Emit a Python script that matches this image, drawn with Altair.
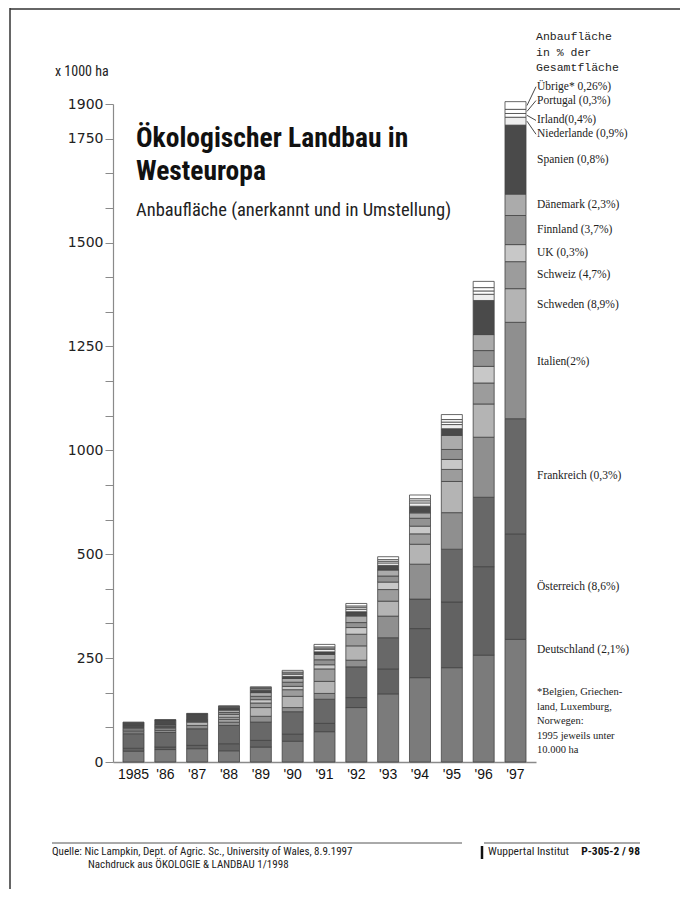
import altair as alt
import pandas as pd

# ---------------- data (values in the chart's drawn y units, x 1000 ha) ----------------
years = ["1985", "'86", "'87", "'88", "'89", "'90", "'91", "'92", "'93", "'94", "'95", "'96", "'97"]

countries = ["Deutschland", "Österreich", "Frankreich", "Italien", "Schweden", "Schweiz", "UK",
             "Finnland", "Dänemark", "Spanien", "Niederlande", "Irland", "Portugal", "Übrige"]

label_texts = ["Deutschland (2,1%)", "Österreich (8,6%)", "Frankreich (0,3%)", "Italien(2%)",
               "Schweden (8,9%)", "Schweiz (4,7%)", "UK (0,3%)", "Finnland (3,7%)", "Dänemark (2,3%)",
               "Spanien (0,8%)", "Niederlande (0,9%)", "Irland(0,4%)", "Portugal (0,3%)", "Übrige* 0,26%)"]

deutschland = [26, 30, 32, 27, 36, 50, 73, 131, 164, 203, 227, 257, 295]
oesterreich = [7, 6, 8, 17, 16, 17, 20, 24, 60, 118, 158, 213, 254]
frankreich = [35, 35, 40, 44, 44, 54, 58, 74, 75, 71, 127, 167, 277]
italien = [5, 5, 8, 8, 14, 10, 14, 16, 52, 84, 88, 144.5, 232]
schweden = [4, 4, 8, 6, 21, 27, 29, 34.5, 36, 48, 75, 80, 81]
schweiz = [4, 3, 2, 6, 11, 16, 30, 28, 28, 25, 29, 50.5, 65]
uk = [2, 2, 1, 6, 8, 8, 10, 16, 18, 18.5, 24, 40, 41]
finnland = [1, 1, 1, 5, 8, 10, 12, 12, 14.5, 19, 24, 38, 70]
daenemark = [2, 3, 2, 6, 9, 9, 13, 16, 14.5, 13, 34, 38.5, 51.5]
spanien = [10, 12, 14, 6, 6, 5, 6, 10, 11, 16, 16, 82, 166]
niederlande = [0, 1, 1, 2, 3, 5, 6, 6, 6, 8, 10, 15, 19]
irland = [0, 0, 0, 1, 1.5, 3, 3, 4, 4, 5, 6, 8, 9]
portugal = [0, 0, 0, 0, 1.5, 2.5, 3, 4, 4, 5, 6, 8, 10]
uebrige = [0, 0, 0, 1, 2, 4, 6, 6, 7, 9, 12, 15, 18.5]

series = [deutschland, oesterreich, frankreich, italien, schweden, schweiz, uk,
          finnland, daenemark, spanien, niederlande, irland, portugal, uebrige]

# y axis: drawn scale (ticks every 1/3 of 250) and the printed labels
tick_step = 250 / 3
tick_values = [round(i * tick_step, 2) for i in range(20)]
printed = {0: "0", 250: "250", 500: "500", 750: "1000", 1000: "1250", 1250: "1500", 1500: "1750", 1583: "1900"}

# ---------------- styling ----------------
colors = ["#7b7b7b", "#626262", "#686868", "#8f8f8f", "#b4b4b4", "#9c9c9c", "#c8c8c8",
          "#929292", "#ababab", "#4a4a4a", "#eeeeee", "#ffffff", "#ffffff", "#ffffff"]
NARROW = "Liberation Sans Narrow, Roboto Condensed, Arial Narrow, Liberation Sans"
W, H = 423, 658
TOP = tick_values[-1]
PX = H / TOP
YSCALE = alt.Scale(domain=[0, TOP], nice=False, zero=True)

rows = []
for j, c in enumerate(countries):
    for i, y in enumerate(years):
        v = series[j][i]
        if v > 0:
            rows.append({"year": y, "country": c, "value": v, "ord": j})
df = pd.DataFrame(rows)

label_expr = " : ".join(
    [f"round(datum.value) == {k} ? '{v}'" for k, v in printed.items()]) + " : ''"

Y_AXIS = alt.Axis(title=None, values=tick_values, labelExpr=label_expr, grid=False,
                  labelOverlap=False, labelFlush=False, labelBound=False,
                  tickSize=8, tickColor="#8a8a8a", domainColor="#8a8a8a", domainWidth=1.2,
                  labelFont="DejaVu Sans", labelFontSize=14, labelColor="#222222",
                  labelPadding=2)

bars = alt.Chart(df).mark_bar(stroke="#444444", strokeWidth=0.8).encode(
    x=alt.X("year:N", sort=years,
            scale=alt.Scale(paddingInner=0.34, paddingOuter=0.314),
            axis=alt.Axis(title=None, labelAngle=0, ticks=False, domainColor="#8a8a8a", domainWidth=1.5,
                          labelFont="Liberation Sans", labelFontSize=14, labelColor="#111111",
                          labelPadding=5)),
    y=alt.Y("value:Q", stack="zero", scale=YSCALE, axis=Y_AXIS),
    color=alt.Color("country:N", scale=alt.Scale(domain=countries, range=colors), legend=None),
    order=alt.Order("ord:Q", sort="ascending"),
)

# ----- country labels next to the 1997 bar -----
last = [s[-1] for s in series]
cum = 0
mids = []
for v in last:
    mids.append(cum + v / 2)
    cum += v
label_y = list(mids)
label_y[0] = (762 - 650) / PX                 # Deutschland label sits low in its segment
label_y[3] = mids[3] + 20                     # Italien
label_y[10] = TOP - 1.04 * 70                 # Niederlande
label_y[11] = TOP - 1.04 * 38                 # Irland
label_y[12] = TOP + 1.04 * 8                  # Portugal
label_y[13] = TOP + 1.04 * 40                 # Übrige
lab_df = pd.DataFrame({"label": label_texts, "ly": label_y, "mid": mids})

labels = alt.Chart(lab_df).mark_text(align="left", baseline="middle", font="Liberation Serif",
                                     fontSize=11.5, color="#222222").encode(
    x=alt.value(424), y=alt.Y("ly:Q", scale=YSCALE, axis=Y_AXIS), text="label:N")

leaders = alt.Chart(lab_df.iloc[10:]).mark_rule(color="#333333", strokeWidth=0.9).encode(
    x=alt.value(414), x2=alt.value(423),
    y=alt.Y("mid:Q", scale=YSCALE, axis=Y_AXIS), y2="ly:Q")


def txt(text, x, y, **kw):
    return alt.Chart(pd.DataFrame({"t": [text]})).mark_text(lineBreak="\n", **kw).encode(
        x=alt.value(x), y=alt.value(y), text="t:N")


def rule(x, x2, y, y2, color="#222222", width=1.0):
    return alt.Chart(pd.DataFrame({"a": [0]})).mark_rule(color=color, strokeWidth=width).encode(
        x=alt.value(x), x2=alt.value(x2), y=alt.value(y), y2=alt.value(y2))


title = txt("Ökologischer Landbau in\nWesteuropa", 23, 43, align="left", baseline="alphabetic",
            font=NARROW, fontSize=27.5, fontWeight="bold", lineHeight=33, color="#111111")
subtitle = txt("Anbaufläche (anerkannt und in Umstellung)", 23, 112, align="left", baseline="alphabetic",
               font=NARROW, fontSize=18.5, color="#222222")
unit = txt("x 1000 ha", -58, -32, align="left", baseline="middle", font=NARROW, fontSize=14,
           color="#222222")
header = txt("Anbaufläche\nin % der\nGesamtfläche", 423, -67, align="left", baseline="middle",
             font="Liberation Mono", fontSize=11.5, lineHeight=15.5, color="#222222")
footnote = txt("*Belgien, Griechen-\nland, Luxemburg,\nNorwegen:\n1995 jeweils unter\n10.000 ha", 424, 588,
               align="left", baseline="middle", font="Liberation Serif", fontSize=10.5, lineHeight=14.5,
               color="#222222")
quelle = txt("Quelle: Nic Lampkin, Dept. of Agric. Sc., University of Wales, 8.9.1997", -61, 748,
             align="left", baseline="middle", font=NARROW, fontSize=11, color="#222222")
nachdruck = txt("Nachdruck aus ÖKOLOGIE & LANDBAU 1/1998", -25, 761, align="left", baseline="middle",
                font=NARROW, fontSize=11, color="#222222")
wupp = txt("Wuppertal Institut", 375, 748, align="left", baseline="middle", font=NARROW, fontSize=11.5,
           color="#222222")
pnum = txt("P-305-2 / 98", 527, 748, align="right", baseline="middle", font=NARROW, fontSize=11.5,
           fontWeight="bold", color="#111111")

frame_left = rule(-103, -103, -96, 785, color="#333333", width=1.5)
frame_top = rule(-103, 567, -95, -95, color="#333333", width=1.5)
foot_line1 = rule(-61, 349, 739, 739, color="#555555", width=1)
foot_line2 = rule(371, 527, 739, 739, color="#555555", width=1)
foot_bar = rule(369, 369, 742, 755, color="#111111", width=2.5)

chart = alt.layer(
    bars, labels, leaders, title, subtitle, unit, header, footnote, quelle, nachdruck, wupp, pnum,
    frame_left, frame_top, foot_line1, foot_line2, foot_bar
).properties(
    width=W, height=H,
    background="white",
    autosize=alt.AutoSizeParams(type="none"),
    padding={"left": 105, "top": 96, "right": 144, "bottom": 127},
).configure_view(strokeWidth=0, stroke="transparent")

chart.save("out.html", embed_options={"renderer": "svg", "actions": False})
